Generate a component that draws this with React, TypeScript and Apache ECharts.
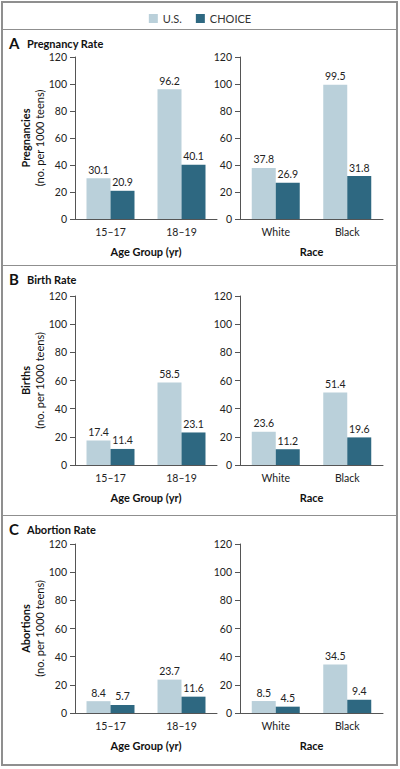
import React, { useEffect, useRef } from "react";
import * as echarts from "echarts";

const FONT = "Lato, 'Open Sans', sans-serif";

const seriesNames = ["U.S.", "CHOICE"];
const ageCategories = ["15–17", "18–19"];
const raceCategories = ["White", "Black"];

const pregnancyAgeUS = [30.1, 96.2];
const pregnancyAgeChoice = [20.9, 40.1];
const pregnancyRaceUS = [37.8, 99.5];
const pregnancyRaceChoice = [26.9, 31.8];

const birthAgeUS = [17.4, 58.5];
const birthAgeChoice = [11.4, 23.1];
const birthRaceUS = [23.6, 51.4];
const birthRaceChoice = [11.2, 19.6];

const abortionAgeUS = [8.4, 23.7];
const abortionAgeChoice = [5.7, 11.6];
const abortionRaceUS = [8.5, 34.5];
const abortionRaceChoice = [4.5, 9.4];

const panelLetters = ["A", "B", "C"];
const panelTitles = ["Pregnancy Rate", "Birth Rate", "Abortion Rate"];
const yTitles = ["Pregnancies", "Births", "Abortions"];
const yUnit = "(no. per 1000 teens)";
const xTitles = ["Age Group (yr)", "Race"];

const COLOR_US = "#bad0da";
const COLOR_CHOICE = "#2e6881";
const BORDER = "#8f8f8f";

export default function App() {
  const ref = useRef<HTMLDivElement>(null);
  useEffect(() => {
    if (!ref.current) return;
    const chart = echarts.init(ref.current, undefined, { renderer: "svg" });

    const panels = [
      { cats: ageCategories, us: pregnancyAgeUS, ch: pregnancyAgeChoice },
      { cats: raceCategories, us: pregnancyRaceUS, ch: pregnancyRaceChoice },
      { cats: ageCategories, us: birthAgeUS, ch: birthAgeChoice },
      { cats: raceCategories, us: birthRaceUS, ch: birthRaceChoice },
      { cats: ageCategories, us: abortionAgeUS, ch: abortionAgeChoice },
      { cats: raceCategories, us: abortionRaceUS, ch: abortionRaceChoice },
    ];
    const rowTop = [57, 296, 544];
    const rowHeight = [162, 169, 169];
    const colLeft = [75, 240];
    const colWidth = [142, 143];
    const sepY = [29.5, 265.5, 515.5];
    const titleY = [43, 279, 529];

    const grid: any[] = [];
    const xAxis: any[] = [];
    const yAxis: any[] = [];
    const series: any[] = [];

    panels.forEach((p, i) => {
      const row = Math.floor(i / 2);
      const col = i % 2;
      grid.push({
        left: colLeft[col],
        top: rowTop[row],
        width: colWidth[col],
        height: rowHeight[row],
        containLabel: false,
      });
      xAxis.push({
        type: "category",
        gridIndex: i,
        data: p.cats,
        axisTick: { show: false },
        axisLine: { lineStyle: { color: "#555", width: 1 } },
        axisLabel: { fontFamily: FONT, fontSize: 10.5, color: "#222", margin: 7 },
        name: xTitles[col],
        nameLocation: "middle",
        nameGap: 27,
        nameTextStyle: { fontFamily: FONT, fontSize: 11, fontWeight: "bold", color: "#111" },
      });
      yAxis.push({
        type: "value",
        gridIndex: i,
        min: 0,
        max: 120,
        interval: 20,
        splitLine: { show: false },
        axisLine: { show: true, lineStyle: { color: "#555", width: 1 } },
        axisTick: { show: true, length: 5, lineStyle: { color: "#555" } },
        axisLabel: { fontFamily: FONT, fontSize: 10.5, color: "#222", margin: 8 },
        name: col === 0 ? `{b|${yTitles[row]}}\n{r|${yUnit}}` : "",
        nameLocation: "middle",
        nameRotate: 90,
        nameGap: 21,
        nameTextStyle: {
          fontFamily: FONT,
          color: "#111",
          rich: {
            b: { fontFamily: FONT, fontSize: 11, fontWeight: "bold", color: "#111", lineHeight: 14 },
            r: { fontFamily: FONT, fontSize: 11, color: "#111", lineHeight: 14 },
          },
        },
      });
      [p.us, p.ch].forEach((vals, k) => {
        series.push({
          type: "bar",
          name: seriesNames[k],
          xAxisIndex: i,
          yAxisIndex: i,
          data: vals,
          barWidth: 24,
          barGap: "0%",
          itemStyle: { color: k === 0 ? COLOR_US : COLOR_CHOICE },
          label: {
            show: true,
            position: "top",
            distance: 3,
            fontFamily: FONT,
            fontSize: 10.5,
            color: "#222",
            formatter: (q: any) => Number(q.value).toFixed(1),
          },
        });
      });
    });

    const graphic: any[] = [
      {
        type: "rect",
        shape: { x: 2, y: 2, width: 395, height: 763 },
        style: { fill: "none", stroke: BORDER, lineWidth: 2 },
        silent: true,
      },
    ];
    sepY.forEach((y) => {
      graphic.push({
        type: "line",
        shape: { x1: 2, y1: y, x2: 397, y2: y },
        style: { stroke: BORDER, lineWidth: 1 },
        silent: true,
      });
    });
    panelLetters.forEach((L, r) => {
      graphic.push({
        type: "text",
        x: 9,
        y: titleY[r],
        style: {
          text: L,
          font: `bold 15px ${FONT}`,
          fill: "#111",
          verticalAlign: "middle",
        },
      });
      graphic.push({
        type: "text",
        x: 27,
        y: titleY[r],
        style: {
          text: panelTitles[r],
          font: `bold 11px ${FONT}`,
          fill: "#111",
          verticalAlign: "middle",
        },
      });
    });

    chart.setOption({
      animation: false,
      backgroundColor: "#ffffff",
      legend: {
        data: seriesNames,
        top: 8,
        left: "center",
        icon: "rect",
        itemWidth: 9,
        itemHeight: 9,
        itemGap: 14,
        textStyle: { fontFamily: FONT, fontSize: 11, color: "#333" },
      },
      grid,
      xAxis,
      yAxis,
      series,
      graphic,
    });
    return () => chart.dispose();
  }, []);

  return (
    <div
      ref={ref}
      style={{ position: "fixed", left: 0, top: 0, width: 400, height: 769, background: "#fff" }}
    />
  );
}
